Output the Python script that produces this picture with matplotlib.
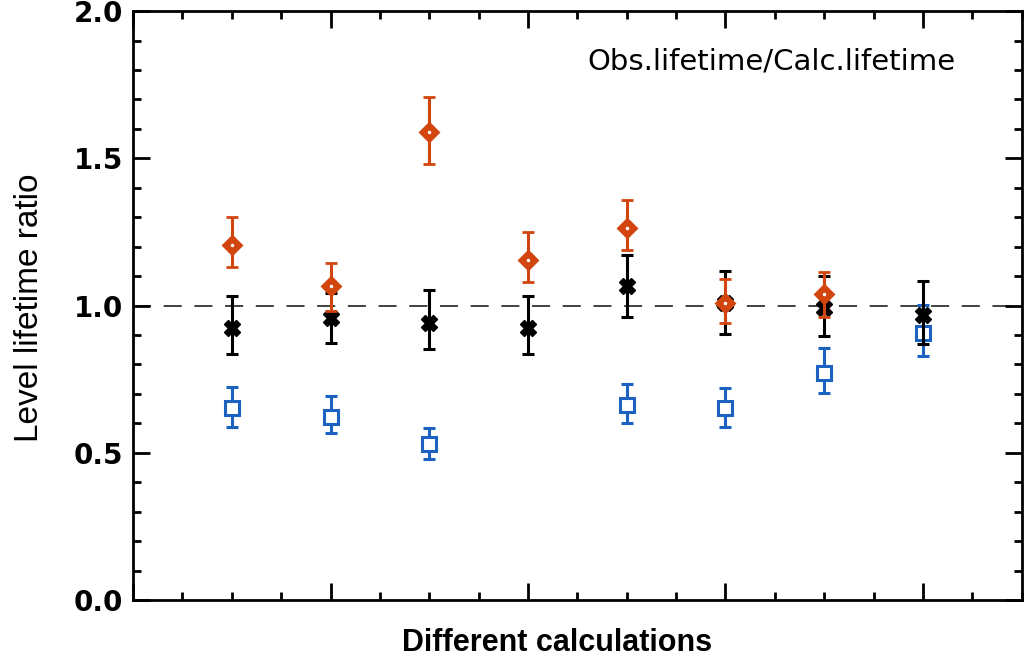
import matplotlib.pyplot as plt
from matplotlib.ticker import MultipleLocator
import numpy as np

# calculation index
x_orange = [1, 2, 3, 4, 5, 6, 7]
y_orange = [1.207, 1.065, 1.588, 1.155, 1.265, 1.01, 1.04]
up_orange = [1.30, 1.146, 1.707, 1.25, 1.36, 1.09, 1.115]
lo_orange = [1.13, 0.98, 1.48, 1.08, 1.19, 0.94, 0.96]

x_black = [1, 2, 3, 4, 5, 6, 7, 8]
y_black = [0.925, 0.959, 0.942, 0.925, 1.065, 1.01, 0.99, 0.969]
up_black = [1.034, 1.044, 1.054, 1.034, 1.17, 1.116, 1.10, 1.082]
lo_black = [0.837, 0.874, 0.854, 0.837, 0.962, 0.905, 0.895, 0.87]

x_blue = [1, 2, 3, 5, 6, 7, 8]
y_blue = [0.653, 0.623, 0.531, 0.663, 0.653, 0.772, 0.908]
up_blue = [0.724, 0.694, 0.585, 0.735, 0.721, 0.857, 1.003]
lo_blue = [0.589, 0.568, 0.48, 0.602, 0.589, 0.704, 0.827]

yticks = [0.0, 0.5, 1.0, 1.5, 2.0]
ytick_labels = ['0.0', '0.5', '1.0', '1.5', '2.0']

orange = '#d2450f'
blue = '#1c62c0'

fig = plt.figure(figsize=(10.28, 6.58), dpi=100)
ax = fig.add_axes([0.1294, 0.0881, 0.8645, 0.8951])

# reference line
ax.axhline(1.0, color='#333333', lw=1.3, ls=(0, (10, 7)), zorder=1)

def errs(y, up, lo):
    y = np.array(y)
    return [y - np.array(lo), np.array(up) - y]

ax.errorbar(x_blue, y_blue, yerr=errs(y_blue, up_blue, lo_blue), fmt='s', ms=10,
            mfc='white', mec=blue, mew=2.2, color=blue, elinewidth=2.2,
            capsize=4.5, capthick=2.2, zorder=2)
ax.errorbar(x_black, y_black, yerr=errs(y_black, up_black, lo_black), fmt='X', ms=12,
            mfc='black', mec='black', color='black', elinewidth=2.2,
            capsize=4.5, capthick=2.2, zorder=3)
ax.errorbar(x_orange, y_orange, yerr=errs(y_orange, up_orange, lo_orange), fmt='D', ms=9,
            mfc=orange, mec=orange, mew=2, color=orange, elinewidth=2.2,
            capsize=4.5, capthick=2.2, zorder=4)
ax.plot(x_orange, y_orange, '.', color='white', ms=3, zorder=5)

ax.set_xlim(0, 9)
ax.set_ylim(0, 2)
ax.xaxis.set_major_locator(MultipleLocator(2))
ax.xaxis.set_minor_locator(MultipleLocator(0.5))
ax.set_yticks(yticks, ytick_labels, fontsize=20, fontweight='bold')
ax.yaxis.set_minor_locator(MultipleLocator(0.1))
ax.tick_params(which='both', direction='in', top=True, right=True, width=2)
ax.tick_params(which='major', length=12)
ax.tick_params(which='minor', length=6)
ax.tick_params(axis='x', labelbottom=False)
ax.tick_params(axis='y', pad=7)
for s in ax.spines.values():
    s.set_linewidth(2)

ax.text(0.925, 0.915, 'Obs.lifetime/Calc.lifetime', transform=ax.transAxes,
        ha='right', va='center', fontsize=21)
fig.text(0.029, 0.533, 'Level lifetime ratio', rotation=90, ha='center', va='center',
         fontsize=24, family='Liberation Sans')
fig.text(0.542, 0.023, 'Different calculations', ha='center', va='center',
         fontsize=22, fontweight='bold', family='Liberation Sans')

plt.savefig('out.png', dpi=100)
